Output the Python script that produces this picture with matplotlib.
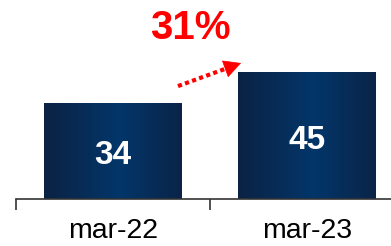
import numpy as np
import matplotlib
matplotlib.use("Agg")
import matplotlib.pyplot as plt
from matplotlib.colors import LinearSegmentedColormap

plt.rcParams['font.family'] = ['Liberation Sans', 'DejaVu Sans']

categories = ['mar-22', 'mar-23']
values = [34, 45]
growth_label = '31%'

fig = plt.figure(figsize=(3.91, 2.46), dpi=100)
ax = fig.add_axes([16 / 391, 47.5 / 246, 1 - 16 / 391, 198.5 / 246])

x = np.arange(len(categories))
bars = ax.bar(x, values, width=0.71, color='#062a52', zorder=2)

# horizontal gradient inside each bar
cmap = LinearSegmentedColormap.from_list(
    'navy', [(0, '#0b2243'), (0.55, '#03366a'), (1, '#0a2447')])
grad = np.linspace(0, 1, 256).reshape(1, -1)
for b in bars:
    x0, y0 = b.get_x(), b.get_y()
    im = ax.imshow(grad, cmap=cmap, aspect='auto', zorder=3,
                   extent=[x0, x0 + b.get_width(), y0, y0 + b.get_height()])
    im.set_clip_path(b)
    ax.text(b.get_x() + b.get_width() / 2, b.get_height() * 0.5 - 1.7,
            str(int(b.get_height())), ha='center', va='center',
            color='white', fontsize=24, fontweight='bold', zorder=4)

# growth arrow: dotted shaft + solid head
x_start, y_start = 0.335, 40.0
x_tip, y_tip = 0.660, 48.2
frac = 0.80
x_mid = x_start + (x_tip - x_start) * frac
y_mid = y_start + (y_tip - y_start) * frac
ax.plot([x_start, x_mid], [y_start, y_mid], color='#ff0000', lw=3,
        linestyle=(0, (1.0, 0.8)), dash_capstyle='butt')
ax.annotate('', xy=(x_tip, y_tip), xytext=(x_mid, y_mid),
            arrowprops=dict(arrowstyle='-|>,head_length=1.15,head_width=0.6',
                            color='#ff0000', lw=0.5, shrinkA=0, shrinkB=0))
ax.text(0.397, 60.7, growth_label, ha='center', va='center',
        color='#ff0000', fontsize=29, fontweight='bold')

for s in ['top', 'right', 'left']:
    ax.spines[s].set_visible(False)
ax.spines['bottom'].set_color('#333333')
ax.spines['bottom'].set_linewidth(1.2)
ax.set_yticks([])
ax.set_xticks([-0.5, 0.5, 1.5])
ax.set_xticklabels([])
ax.set_xticks(x, minor=True)
ax.set_xticklabels(categories, minor=True, fontsize=20.5)
ax.tick_params(axis='x', which='major', length=8, width=1.2, color='#333333')
ax.tick_params(axis='x', which='minor', length=0, pad=14)

ax.set_xlim(-0.5, (391 - 16) / 194 - 0.5)
ax.set_ylim(0, 198.5 / 2.81)

fig.savefig('out.png', dpi=100)
